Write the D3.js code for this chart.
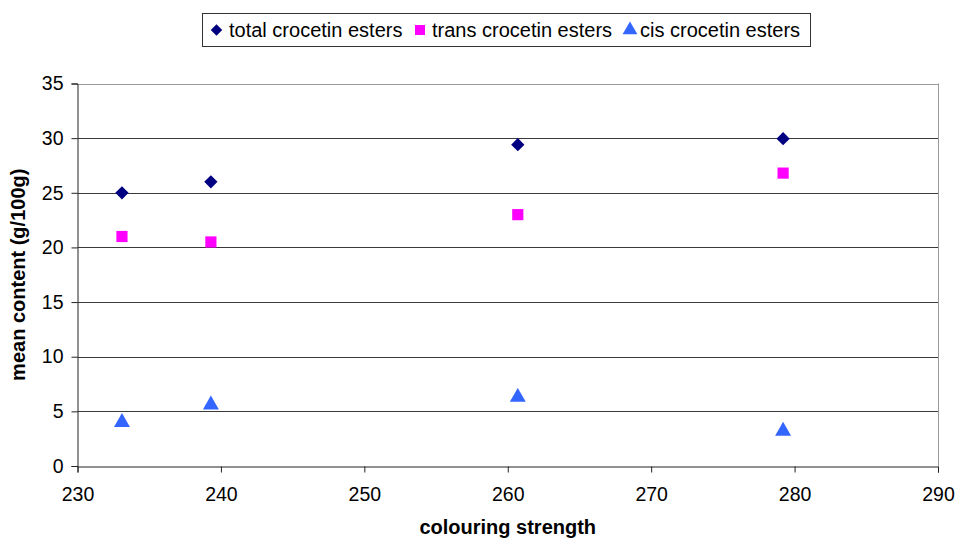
<!DOCTYPE html>
<html>
<head>
<meta charset="utf-8">
<script src="https://cdn.jsdelivr.net/npm/d3@7"></script>
<style>
  body { margin: 0; background: #fff; }
  svg { display: block; font-family: "Liberation Sans", Arial, sans-serif; }
</style>
</head>
<body>
<div id="chart"></div>
<script>
// Data
const colouringStrength = [233.1, 239.3, 260.7, 279.2];
const totalEsters = [25.0, 26.0, 29.4, 29.95];
const transEsters = [21.0, 20.5, 23.0, 26.8];
const cisEsters = [4.0, 5.6, 6.3, 3.2];
const xTicks = [230, 240, 250, 260, 270, 280, 290];
const yTicks = [0, 5, 10, 15, 20, 25, 30, 35];

const seriesNames = ["total crocetin esters", "trans crocetin esters", "cis crocetin esters"];
const seriesValues = [totalEsters, transEsters, cisEsters];
const seriesColors = ["#000080", "#ff00ff", "#3366ff"];

const width = 955;
const height = 540;
const margin = { top: 83.5, right: 17, bottom: 74, left: 77.5 };

// rotated square for the diamond marker (Excel style)
const diamond = {
  draw(context, size) {
    const h = Math.sqrt(size / 2);
    context.moveTo(0, -h);
    context.lineTo(h, 0);
    context.lineTo(0, h);
    context.lineTo(-h, 0);
    context.closePath();
  }
};
const seriesShapes = [diamond, d3.symbolSquare, d3.symbolTriangle];

const svg = d3.select("#chart").append("svg")
    .attr("width", width)
    .attr("height", height);

const x = d3.scaleLinear()
    .domain([230, 290])
    .range([margin.left, width - margin.right]);

const y = d3.scaleLinear()
    .domain([0, 35])
    .range([height - margin.bottom, margin.top]);

// Gridlines
svg.append("g")
    .selectAll("line")
    .data(yTicks.filter(d => d > 0))
    .join("line")
    .attr("x1", x(230))
    .attr("x2", x(290))
    .attr("y1", d => Math.round(y(d)) + 0.5)
    .attr("y2", d => Math.round(y(d)) + 0.5)
    .attr("stroke", d => d === 35 ? "#9a9a9a" : "#3a3a3a")
    .attr("stroke-width", 1);

// Right border of plot area
svg.append("line")
    .attr("x1", Math.round(x(290)) + 0.5)
    .attr("x2", Math.round(x(290)) + 0.5)
    .attr("y1", y(35))
    .attr("y2", y(0))
    .attr("stroke", "#9a9a9a");

// Axes
const xAxis = svg.append("g")
    .attr("transform", `translate(0,${Math.round(y(0)) + 0.5})`)
    .call(d3.axisBottom(x).tickValues(xTicks).tickSize(6).tickPadding(15));

const yAxis = svg.append("g")
    .attr("transform", `translate(${Math.round(x(230)) - 0.5},0)`)
    .call(d3.axisLeft(y).tickValues(yTicks).tickSize(6).tickPadding(8));

[xAxis, yAxis].forEach(ax => {
  ax.select(".domain").attr("stroke", "#222");
  ax.selectAll(".tick line").attr("stroke", "#222");
  ax.selectAll(".tick text")
      .attr("fill", "#000")
      .style("font-size", "19.5px")
      .style("font-family", "'Liberation Sans', Arial, sans-serif");
});

// Axis titles
svg.append("text")
    .attr("x", (x(230) + x(290)) / 2)
    .attr("y", 534)
    .attr("text-anchor", "middle")
    .style("font-size", "20px")
    .style("font-weight", "bold")
    .text("colouring strength");

svg.append("text")
    .attr("transform", `translate(25,${(y(0) + y(35)) / 2}) rotate(-90)`)
    .attr("text-anchor", "middle")
    .style("font-size", "20px")
    .style("font-weight", "bold")
    .text("mean content (g/100g)");

// Markers
const symbolSizes = [88, 125, 110];
seriesValues.forEach((vals, s) => {
  svg.append("g")
      .selectAll("path")
      .data(vals)
      .join("path")
      .attr("transform", (d, i) => `translate(${x(colouringStrength[i])},${y(d)})`)
      .attr("d", d3.symbol().type(seriesShapes[s]).size(symbolSizes[s]))
      .attr("fill", seriesColors[s]);
});

// Legend
const legend = svg.append("g");
legend.append("rect")
    .attr("x", 202.5)
    .attr("y", 13.5)
    .attr("width", 608)
    .attr("height", 33)
    .attr("fill", "#fff")
    .attr("stroke", "#333");

const legendMarkX = [216.5, 420, 630];
const legendTextX = [229, 432, 640];
const legendSizes = [66, 100, 95];
seriesNames.forEach((name, s) => {
  legend.append("path")
      .attr("transform", `translate(${legendMarkX[s]},30)`)
      .attr("d", d3.symbol().type(seriesShapes[s]).size(legendSizes[s]))
      .attr("fill", seriesColors[s]);
  legend.append("text")
      .attr("x", legendTextX[s])
      .attr("y", 37)
      .style("font-size", "20px")
      .text(name);
});
</script>
</body>
</html>
